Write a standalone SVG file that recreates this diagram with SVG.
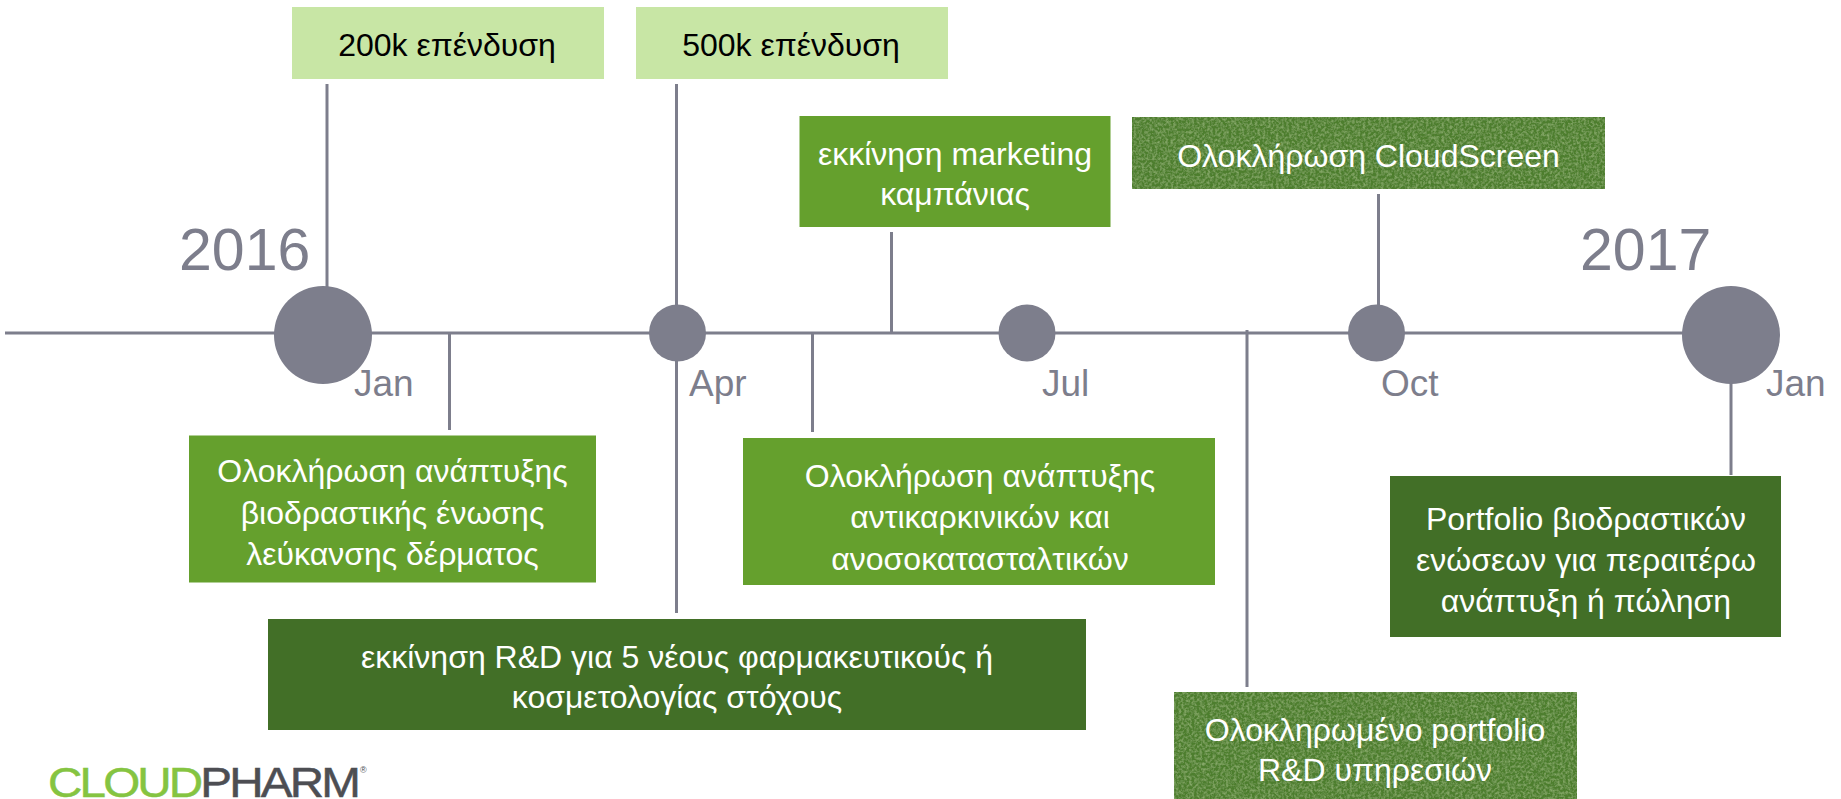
<svg xmlns="http://www.w3.org/2000/svg" width="1841" height="799" viewBox="0 0 1841 799">
<style>
text{font-family:"Liberation Sans",Arial,sans-serif}
.t{font-size:32px;text-anchor:middle;fill:#fff}
.k{fill:#000}
.y{font-size:59px;fill:#7d7e8c}
.m{font-size:37px;fill:#7d7e8c}
.c{stroke:#7d7e8c;stroke-width:3;fill:none}
.d{fill:#7d7e8c}
.a{fill:#c8e6a5}.b{fill:#65a02d}.e{fill:#426f27}.g{fill:#4d7e2e}
</style>
<defs>
<filter id="grass" x="0" y="0" width="100%" height="100%">
<feTurbulence type="fractalNoise" baseFrequency="0.38" numOctaves="3" seed="4" result="n"/>
<feColorMatrix in="n" type="matrix" values="0 0 0 0 0.24  0 0 0 0 0.40  0 0 0 0 0.14  2.2 0 0 0 -0.85" result="s"/>
<feComposite in="s" in2="SourceGraphic" operator="in" result="c"/>
<feMerge><feMergeNode in="SourceGraphic"/><feMergeNode in="c"/></feMerge>
</filter>
</defs>
<g id="connectors">
<path class="c" d="M5 333H1690"/>
<path class="c" d="M327 84V290"/>
<path class="c" d="M449.500 333V430"/>
<path class="c" d="M676.500 84V613"/>
<path class="c" d="M812.500 333V432"/>
<path class="c" d="M891.500 232V333"/>
<path class="c" d="M1247 330V687"/>
<path class="c" d="M1378.500 194V310"/>
<path class="c" d="M1731 380V475"/>
</g>
<g id="m-jan16"><circle class="d" cx="323" cy="335" r="49"/><text class="y" x="179" y="270">2016</text><text class="m" x="354" y="396">Jan</text></g>
<g id="m-apr"><circle class="d" cx="677.500" cy="333" r="28.500"/><text class="m" x="689" y="396">Apr</text></g>
<g id="m-jul"><circle class="d" cx="1027" cy="333" r="28.500"/><text class="m" x="1042" y="396">Jul</text></g>
<g id="m-oct"><circle class="d" cx="1376.500" cy="333" r="28.500"/><text class="m" x="1381" y="396">Oct</text></g>
<g id="m-jan17"><circle class="d" cx="1731" cy="335" r="49"/><text class="y" x="1580" y="270">2017</text><text class="m" x="1766" y="396">Jan</text></g>
<g id="n-200k"><rect class="a" x="292" y="7" width="312" height="72"/><text class="t k" x="447" y="56">200k επένδυση</text></g>
<g id="n-500k"><rect class="a" x="636" y="7" width="312" height="72"/><text class="t k" x="791" y="56">500k επένδυση</text></g>
<g id="n-marketing"><rect class="b" x="799.500" y="116" width="311" height="111"/><text class="t" x="955" y="165">εκκίνηση marketing</text><text class="t" x="955" y="205">καμπάνιας</text></g>
<g id="n-cloudscreen"><rect class="g" filter="url(#grass)" x="1132" y="117" width="473" height="72"/><text class="t" x="1368.500" y="167">Ολοκλήρωση CloudScreen</text></g>
<g id="n-whitening"><rect class="b" x="189" y="435.500" width="407" height="147"/><text class="t" x="392.500" y="482">Ολοκλήρωση ανάπτυξης</text><text class="t" x="392.500" y="524">βιοδραστικής ένωσης</text><text class="t" x="392.500" y="565">λεύκανσης δέρματος</text></g>
<g id="n-anticancer"><rect class="b" x="743" y="438" width="472" height="147"/><text class="t" x="980" y="487">Ολοκλήρωση ανάπτυξης</text><text class="t" x="980" y="528">αντικαρκινικών και</text><text class="t" x="980" y="570">ανοσοκατασταλτικών</text></g>
<g id="n-rd"><rect class="e" x="268" y="619" width="818" height="111"/><text class="t" x="677" y="668">εκκίνηση R&amp;D για 5 νέους φαρμακευτικούς ή</text><text class="t" x="677" y="708">κοσμετολογίας στόχους</text></g>
<g id="n-services"><rect class="g" filter="url(#grass)" x="1174" y="692" width="403" height="107"/><text class="t" x="1375" y="741">Ολοκληρωμένο portfolio</text><text class="t" x="1375" y="781">R&amp;D υπηρεσιών</text></g>
<g id="n-portfolio"><rect class="e" x="1390" y="476" width="391" height="161"/><text class="t" x="1586" y="530">Portfolio βιοδραστικών</text><text class="t" x="1586" y="571">ενώσεων για περαιτέρω</text><text class="t" x="1586" y="612">ανάπτυξη ή πώληση</text></g>
<g id="logo"><text x="48" y="797" font-size="42" letter-spacing="-2.500" textLength="310" lengthAdjust="spacingAndGlyphs" stroke-width="0.5"><tspan fill="#85c441" stroke="#85c441">CLOUD</tspan><tspan fill="#4d4e53" stroke="#4d4e53">PHARM</tspan></text><text x="360" y="773" font-size="9" fill="#4d4e53">®</text></g>
</svg>
